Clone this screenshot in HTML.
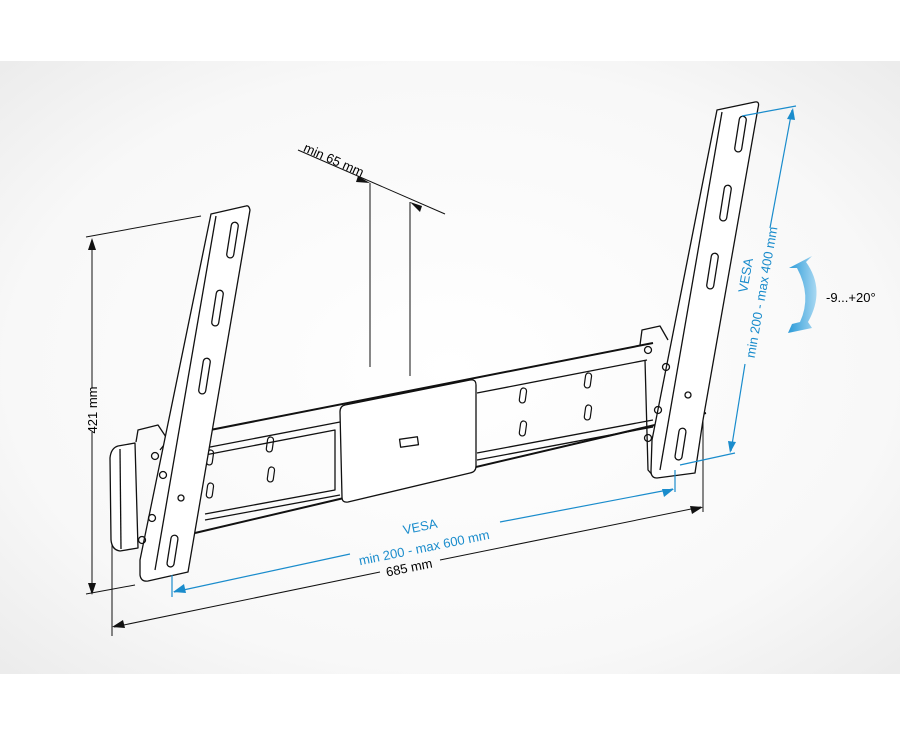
<!DOCTYPE html>
<html><head><meta charset="utf-8"><style>
html,body{margin:0;padding:0;background:#fff;}
svg{display:block;}
text{font-family:"Liberation Sans",sans-serif;font-size:13px;}
</style></head><body>
<svg width="900" height="737" viewBox="0 0 900 737" xmlns="http://www.w3.org/2000/svg">
<defs>
<radialGradient id="bg" cx="0.5" cy="0.5" r="0.7">
<stop offset="0" stop-color="#ffffff"/><stop offset="0.7" stop-color="#f8f8f8"/><stop offset="1" stop-color="#ececec"/>
</radialGradient>
<linearGradient id="arr" x1="0" y1="0" x2="1" y2="0">
<stop offset="0" stop-color="#2a9ad8"/><stop offset="1" stop-color="#a8d8f2"/>
</linearGradient>
</defs>
<rect x="0" y="0" width="900" height="737" fill="#fff"/>
<rect x="0" y="61" width="900" height="613" fill="url(#bg)"/>

<g fill="none" stroke="#111" stroke-width="1.3" stroke-linejoin="round">
<!-- rail -->
<path d="M200 432 L653 343" stroke-width="2"/>
<path d="M195 533 L706 413" stroke-width="2"/>
<path d="M205 448 L340 422 M477 393 L647 360"/>
<path d="M205 520 L340 495 M477 453 L653 420 M477 460 L653 427"/>
<path d="M205 455 L335 430 L335 490 L205 514"/>
<!-- center plate -->
<path d="M345 405 L470 380 Q476 379 476 385 L476 466 Q476 472 470 473 L348 502 Q342 503 342 497 L340 412 Q340 406 345 405 Z" fill="#fff"/>
<rect x="400" y="438" width="18" height="8" transform="rotate(-8 409 442)"/>
<!-- rail slots -->
<g stroke-width="1.2">
<rect x="267" y="437" width="6" height="15" rx="3" transform="rotate(8 270 444)"/>
<rect x="268" y="467" width="6" height="15" rx="3" transform="rotate(8 271 474)"/>
<rect x="207" y="450" width="6" height="15" rx="3" transform="rotate(8 210 457)"/>
<rect x="207" y="483" width="6" height="15" rx="3" transform="rotate(8 210 490)"/>
<rect x="520" y="388" width="6" height="15" rx="3" transform="rotate(8 523 395)"/>
<rect x="520" y="421" width="6" height="15" rx="3" transform="rotate(8 523 428)"/>
<rect x="585" y="373" width="6" height="15" rx="3" transform="rotate(8 588 380)"/>
<rect x="585" y="405" width="6" height="15" rx="3" transform="rotate(8 588 412)"/>
</g>
<!-- left end cap -->
<path d="M118 446 L135 443 L138 548 L120 551 Q112 550 111 540 L110 458 Q111 448 118 446 Z" fill="#fff"/>
<path d="M120 449 L121 549"/>
<path d="M136 442 L138 430 L158 425 L168 440 L160 450"/>
<!-- right end bracket -->
<path d="M640 345 L642 330 L660 326 L668 340 M645 360 L648 470 L655 478"/>
<!-- left strap -->
<path d="M211 214 L246 206 Q249 205 250 210 L188 572 L148 581 Q141 582 140 575 L140 560 Z" fill="#fff"/>
<path d="M216 216 L155 570"/>
<circle cx="155" cy="456" r="3.5"/><circle cx="163" cy="475" r="3.5"/><circle cx="152" cy="518" r="3.5"/><circle cx="142" cy="540" r="3.5"/>
<circle cx="181" cy="498" r="3"/>
<g stroke-width="1.3">
<rect x="229" y="222" width="7" height="36" rx="3.5" transform="rotate(9 232 240)"/>
<rect x="214" y="290" width="7" height="36" rx="3.5" transform="rotate(9 217 308)"/>
<rect x="201" y="358" width="7" height="36" rx="3.5" transform="rotate(9 204 376)"/>
<rect x="169" y="535" width="7" height="32" rx="3.5" transform="rotate(9 172 551)"/>
</g>
<!-- right strap -->
<path d="M717 110 L755 102 Q760 101 758 108 L703 420 L695 473 L657 478 Q651 478 651 471 L652 440 Z" fill="#fff"/>
<path d="M722 112 L660 470"/>
<circle cx="648" cy="350" r="3.5"/><circle cx="666" cy="367" r="3.5"/><circle cx="658" cy="410" r="3.5"/><circle cx="648" cy="438" r="3.5"/>
<circle cx="688" cy="395" r="3"/>
<g stroke-width="1.3">
<rect x="737" y="116" width="7" height="36" rx="3.5" transform="rotate(9 740 134)"/>
<rect x="722" y="185" width="7" height="36" rx="3.5" transform="rotate(9 725 203)"/>
<rect x="709" y="253" width="7" height="36" rx="3.5" transform="rotate(9 712 271)"/>
<rect x="677" y="428" width="7" height="32" rx="3.5" transform="rotate(9 680 444)"/>
</g>
</g>

<!-- black dimension lines -->
<g stroke="#111" stroke-width="1" fill="none">
<path d="M86 237 L201 216"/>
<path d="M86 594 L135 585"/>
<path d="M92 242 L92 388 M92 432 L92 592"/>
<path d="M112 545 L112 636 M703 420 L703 512"/>
<path d="M114 627 L380 572 M440 560 L701 507"/>
<path d="M298 150 L445 214"/>
<path d="M370 183 L370 367 M410 202 L410 376"/>
</g>
<g fill="#111">
<path d="M92 238 L88 250 L96 250 Z"/>
<path d="M92 595 L88 583 L96 583 Z"/>
<path d="M112 627 L123 620 L125 628 Z"/>
<path d="M703 507 L690 506 L692 514 Z"/>
<path d="M370 183 L358 176 L356 182 Z"/>
<path d="M410 202 L422 206 L420 212 Z"/>
</g>
<text x="0" y="0" transform="translate(97 410) rotate(-90)" text-anchor="middle">421 mm</text>
<text x="0" y="0" transform="translate(410 572) rotate(-11.5)" text-anchor="middle">685 mm</text>
<text x="0" y="0" transform="translate(332 164) rotate(24)" text-anchor="middle">min 65 mm</text>
<text x="826" y="302" font-size="12.5">-9...+20°</text>

<!-- blue dimension lines -->
<g stroke="#1a8ccc" stroke-width="1.2" fill="none">
<path d="M172 575 L172 597 M675 470 L675 492"/>
<path d="M174 592 L350 554 M500 522 L673 489"/>
<path d="M742 116 L796 106 M680 465 L735 453"/>
<path d="M792 110 L770 228 M745 364 L731 451"/>
</g>
<g fill="#1a8ccc">
<path d="M173 592 L184 584 L186 593 Z"/>
<path d="M674 489 L662 489 L664 497 Z"/>
<path d="M793 108 L787 119 L795 120 Z"/>
<path d="M730 453 L728 441 L736 442 Z"/>
</g>
<g fill="#1a8ccc" font-size="12">
<text x="0" y="0" transform="translate(421 531) rotate(-11.5)" text-anchor="middle" font-size="12.5">VESA</text>
<text x="0" y="0" transform="translate(425 552) rotate(-11.5)" text-anchor="middle" font-size="12.5">min 200 - max 600 mm</text>
<text x="0" y="0" transform="translate(750 276) rotate(-80)" text-anchor="middle" font-size="12.5">VESA</text>
<text x="0" y="0" transform="translate(766 293) rotate(-80)" text-anchor="middle" font-size="12.5">min 200 - max 400 mm</text>
</g>
<!-- curved arrow -->
<path d="M789 268 L812 256 L806 262 Q826 290 808 322 L812 328 L788 333 L792 324 L800 322 Q812 296 797 268 Z" fill="url(#arr)"/>
</svg>
</body></html>
